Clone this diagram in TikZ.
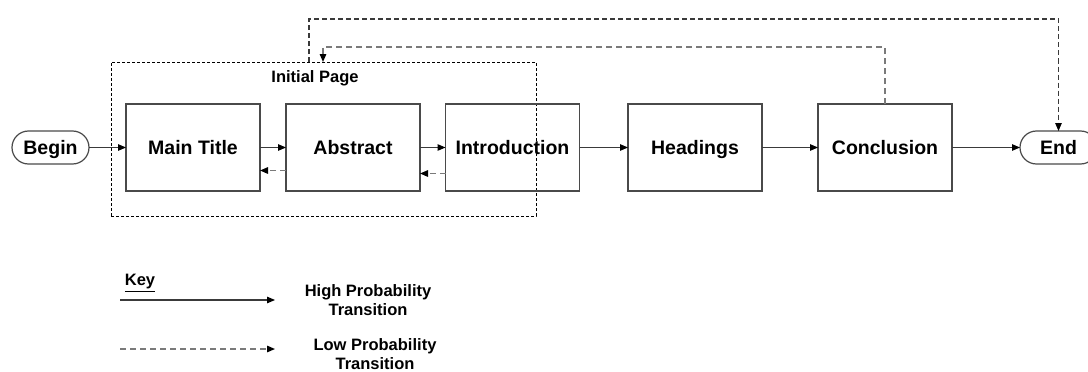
\documentclass[tikz,border=0pt]{standalone}
\usepackage{fontspec}
\setmainfont{Liberation Sans}
\usetikzlibrary{arrows.meta}
\definecolor{bordergray}{HTML}{4A4A4A}
\definecolor{linegray}{HTML}{3A3A3A}
\definecolor{dashgray}{HTML}{7A7A7A}
\tikzset{
  box/.style={draw=bordergray, line width=1.4pt, rectangle, inner sep=0pt, outer sep=0pt,
    minimum width=134pt, minimum height=87pt, text height=14pt, text depth=1pt,
    font=\fontsize{19.5}{23}\selectfont\bfseries},
  terminal/.style={draw=bordergray, line width=1.2pt, rectangle, rounded corners=16.5pt,
    inner sep=0pt, outer sep=0pt, minimum width=77pt, minimum height=33pt,
    text height=14pt, text depth=1pt,
    font=\fontsize{19.5}{23}\selectfont\bfseries},
  groupbox/.style={draw=black, line width=1pt, dash pattern=on 3pt off 2pt, rectangle,
    inner sep=0pt, outer sep=0pt, minimum width=425pt, minimum height=154pt},
  keytext/.style={font=\fontsize{16.5}{19.5}\selectfont\bfseries, align=center, inner sep=0pt},
  tip/.style={-{Triangle[length=8pt,width=6.5pt,color=black]}},
  hp/.style={tip, draw=linegray, line width=1.1pt},
  lp/.style={tip, draw=dashgray, line width=1.4pt, dash pattern=on 6pt off 4pt},
  lpdark/.style={tip, draw=linegray, line width=1.1pt, dash pattern=on 5pt off 3pt},
}
\begin{document}
\begin{tikzpicture}[x=1pt,y=-1pt]
\useasboundingbox (0,0) rectangle (1088,372);

% group box
\node[groupbox] (initial) at (323.5,139) {};
\node[font=\fontsize{16.5}{20}\selectfont\bfseries, inner sep=0pt] (initlabel) at (315,78) {Initial Page};

% nodes
\node[terminal] (begin) at (50.5,147.5) {Begin};
\node[box] (main) at (193,147.5) {Main Title};
\node[box] (abs) at (353,147.5) {Abstract};
\node[box] (intro) at (512.5,147.5) {Introduction};
\node[box] (head) at (695,147.5) {Headings};
\node[box] (concl) at (885,147.5) {Conclusion};
\node[terminal] (endn) at (1058.5,147.5) {End};

% high probability transitions
\draw[hp] (begin) -- (main);
\draw[hp] (main) -- (abs);
\draw[hp] (abs) -- (intro);
\draw[hp] (intro) -- (head);
\draw[hp] (head) -- (concl);
\draw[hp] (concl) -- (endn);

% low probability transitions
\draw[lp] ([yshift=-23pt]abs.west) -- ([yshift=-23pt]main.east);
\draw[lp] ([yshift=-26pt]intro.west) -- ([yshift=-26pt]abs.east);
\draw[lpdark] ([xshift=198pt]initial.north west) -- ++(0,-43) -| (endn.north);
\draw[lp] (concl.north) -- ++(0,-57) -| ([xshift=212pt]initial.north west);

% key
\node[font=\fontsize{16.5}{20}\selectfont\bfseries, inner sep=0pt] (key) at (140,283) {\underline{Key}};
\coordinate (k1s) at (120,300);
\coordinate (k1e) at (275,300);
\draw[hp] (k1s) -- (k1e);
\node[keytext] (k1t) at (368,300) {High Probability\\Transition};
\coordinate (k2s) at (120,349);
\coordinate (k2e) at (275,349);
\draw[lp] (k2s) -- (k2e);
\node[keytext] (k2t) at (375,354) {Low Probability\\Transition};
\end{tikzpicture}
\end{document}
